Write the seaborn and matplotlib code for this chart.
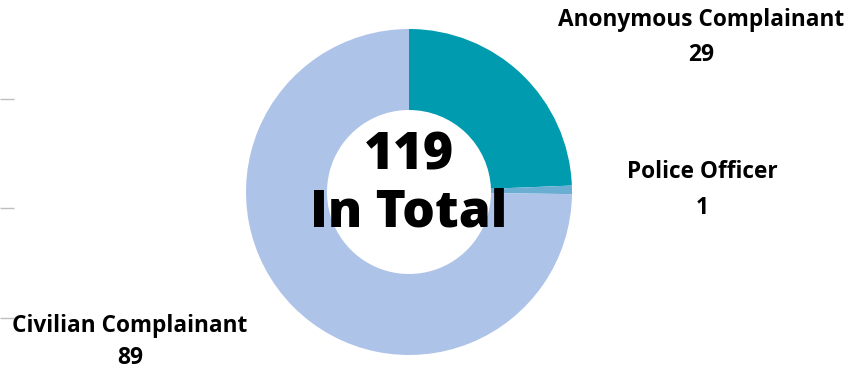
import matplotlib
matplotlib.use("Agg")
import matplotlib.pyplot as plt
import seaborn as sns

sns.set_theme(style="white")
plt.rcParams["font.family"] = ["Open Sans", "DejaVu Sans"]

# Complaint sources
categories = ["Anonymous Complainant", "Police Officer", "Civilian Complainant"]
counts = [29, 1, 89]
colors = ["#009BAF", "#6AAED4", "#AEC3E8"]

fig = plt.figure(figsize=(8.64, 3.70), dpi=100)
ax = fig.add_axes([0, 0, 1, 1])

center = (409, 178)
radius = 163
ax.pie(counts, colors=colors, startangle=90, counterclock=False,
       center=center, radius=radius, frame=True,
       wedgeprops=dict(width=radius - 82, linewidth=0))
ax.set_xlim(0, 864)
ax.set_ylim(0, 370)
ax.set_aspect("equal")

# Center total
total = sum(counts)
ax.text(center[0], 214, f"{total}", ha="center", va="center",
        fontsize=37, fontweight="heavy", color="black")
ax.text(center[0], 157, "In Total", ha="center", va="center",
        fontsize=37, fontweight="heavy", color="black")

# Category labels
label_pos = [(701, 350, 315), (702, 198, 162), (130, 44, 12)]
for name, n, (x, y1, y2) in zip(categories, counts, label_pos):
    ax.text(x, y1, name, ha="center", va="center", fontsize=16.3,
            fontweight="bold", color="black")
    ax.text(x, y2, str(n), ha="center", va="center", fontsize=16.5,
            fontweight="bold", color="black")

# Faint tick marks along the left edge
for s in ax.spines.values():
    s.set_visible(False)
ax.set_xticks([])
ax.set_yticks([52, 162, 271])
ax.set_yticklabels([])
ax.tick_params(axis="y", direction="in", length=10, width=1, color="#BFBFBF", left=True)

fig.savefig("out.png", dpi=100)
